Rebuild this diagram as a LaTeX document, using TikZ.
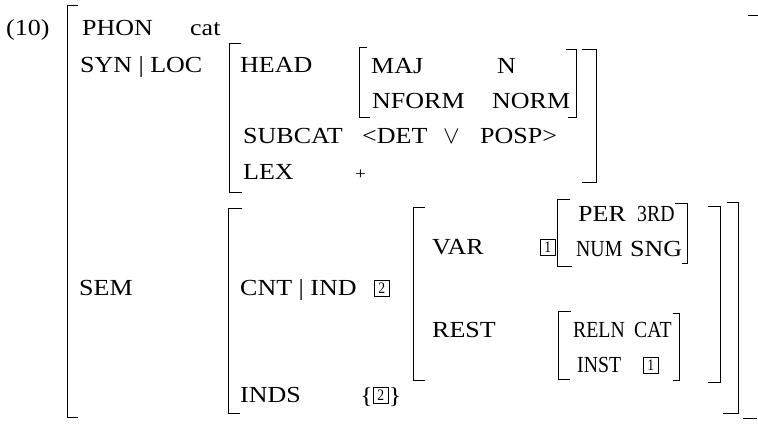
\documentclass[tikz,border=0pt]{standalone}
\usepackage{fontspec}
\setmainfont{Liberation Serif}[FakeStretch=1.13]
\newfontfamily\narrowfamily{Liberation Serif}[FakeStretch=0.86]
\newfontfamily\tagfamily{Liberation Serif}[FakeStretch=0.85]

\begin{document}
\begin{tikzpicture}[x=1pt,y=-1pt,
  lbl/.style={anchor=base west, inner sep=0pt, font=\fontsize{23}{27}\selectfont},
  lbln/.style={lbl, font=\narrowfamily\fontsize{23}{27}\selectfont},
  brk/.style={line width=0.95pt, line cap=butt},
  tag/.style={draw, line width=0.75pt, inner sep=0pt, minimum width=15pt,
    minimum height=16pt, anchor=south west,
    font=\tagfamily\fontsize{16}{16}\selectfont}]
\useasboundingbox (0,0) rectangle (758,427);

% example number
\node[lbl] (num) at (6,36) {(10)};

% outermost matrix: left bracket and the two marks of its right side
\draw[brk] (78,5) -- (67,5) -- (67,417) -- (78,417);
\draw[brk] (748,15) -- (758,15);
\draw[brk] (743,418) -- (757,418);

% PHON
\node[lbl] (phon) at (82,36) {PHON};
\node[lbl] (cat) at (190,36) {cat};

% SYN | LOC
\node[lbl] (synloc) at (80,73) {SYN | LOC};
\draw[brk] (241,43) -- (229,43) -- (229,192) -- (242,192);
\draw[brk] (582,49) -- (596,49) -- (596,182) -- (582,182);

\node[lbl] (head) at (240,73) {HEAD};
\draw[brk] (367,47) -- (359,47) -- (359,117) -- (370,117);
\draw[brk] (566,49) -- (576,49) -- (576,117) -- (568,117);
\node[lbl] (maj) at (371,74) {MAJ};
\node[lbl] (majv) at (497,74) {N};
\node[lbl] (nform) at (372,109) {NFORM};
\node[lbl] (nformv) at (492,109) {NORM};

\node[lbl] (subcat) at (243,144) {SUBCAT};
\node[lbl] (lt) at (362,144) {<DET};
\node[lbl] (disj) at (443,144) {$\vee$};
\node[lbl] (posp) at (480,144) {POSP>};

\node[lbl] (lex) at (243,180) {LEX};
\node[lbl, font=\fontsize{17}{17}\selectfont] (lexv) at (355,180) {+};

% SEM
\node[lbl] (sem) at (79,296) {SEM};
\draw[brk] (242,208) -- (228,208) -- (228,413) -- (240,413);
\draw[brk] (727,202) -- (738,202) -- (738,413) -- (723,413);

\node[lbl] (cntind) at (240,296) {CNT | IND};
\node[tag] (tagA) at (374,297) {2};
\draw[brk] (425,207) -- (413,207) -- (413,380) -- (425,380);
\draw[brk] (708,206) -- (720,206) -- (720,382) -- (708,382);

% VAR
\node[lbl] (var) at (432,255) {VAR};
\node[tag] (tagB) at (540,256) {1};
\draw[brk] (570,199) -- (557,199) -- (557,266) -- (572,266);
\draw[brk] (675,203) -- (687,203) -- (687,263) -- (682,263);
\node[lbl] (per) at (578,222) {PER};
\node[lbln] (perv) at (637,222) {3RD};
\node[lbln] (numf) at (576,257) {NUM};
\node[lbl] (numv) at (630,257) {SNG};

% REST
\node[lbl] (rest) at (432,338) {REST};
\draw[brk] (571,311) -- (558,311) -- (558,379) -- (570,379);
\draw[brk] (673,313) -- (679,313) -- (679,380) -- (673,380);
\node[lbln] (reln) at (573,338) {RELN};
\node[lbln] (relnv) at (634,338) {CAT};
\node[lbln] (inst) at (577,373) {INST};
\node[tag] (tagC) at (643,374) {1};

% INDS
\node[lbl] (inds) at (240,403) {INDS};
\node[tag] (tagD) at (373,404) {2};
\node[lbl, anchor=base east] (lbr) at (tagD.south west) {\{};
\node[lbl] (rbr) at (tagD.south east) {\}};
\end{tikzpicture}
\end{document}
